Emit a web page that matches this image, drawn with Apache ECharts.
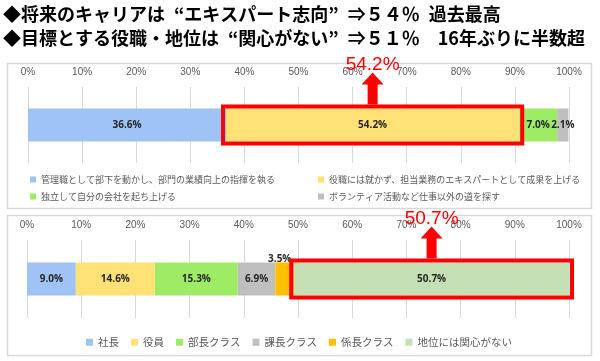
<!DOCTYPE html>
<html><head><meta charset="utf-8">
<script src="https://cdn.jsdelivr.net/npm/echarts@6/dist/echarts.min.js"></script>
<style>html,body{margin:0;padding:0;background:#fff}#c{width:600px;height:361px}</style>
</head><body><div id="c"></div>
<script>
const titleLine1 = '◆将来のキャリアは\u2002“エキスパート志向”\u2002⇒５４％\u2002過去最高';
const titleLine2 = '◆目標とする役職・地位は\u2002“関心がない”\u2002⇒５１％　16年ぶりに半数超';
const tickLabels = ['0%','10%','20%','30%','40%','50%','60%','70%','80%','90%','100%'];

const topNames = ['管理職として部下を動かし、部門の業績向上の指揮を執る','役職には就かず、担当業務のエキスパートとして成果を上げる','独立して自分の会社を起ち上げる','ボランティア活動など仕事以外の道を探す'];
const topValues = [36.6, 54.2, 7.0, 2.1];
const topColors = ['#9FC3F5','#FFE175','#9EEB66','#BFBFBF'];

const botNames = ['社長','役員','部長クラス','課長クラス','係長クラス','地位には関心がない'];
const botValues = [9.0, 14.6, 15.3, 6.9, 3.5, 50.7];
const botColors = ['#9FC3F5','#FFE175','#9EEB66','#BFBFBF','#FFC000','#C5E0B4'];

const highlightTop = 1;   // index in top series
const highlightBot = 5;   // index in bottom series

const chart = echarts.init(document.getElementById('c'), null, {renderer:'canvas'});
const FONT = '"Noto Sans CJK JP","Noto Sans",sans-serif';

function xAxisCfg(grid){
  return {type:'value', gridIndex:grid, min:0, max:100, interval:10, position:'top',
    axisLine:{show:false}, axisTick:{show:false},
    axisLabel:{color:'#595959', fontSize:10, margin:10, fontFamily:'"Liberation Sans",sans-serif',
      formatter:(v)=>tickLabels[Math.round(v/10)]},
    splitLine:{lineStyle:{color:'#D9D9D9', width:1}}};
}
function yAxisCfg(grid){
  return {type:'category', gridIndex:grid, data:[''], axisLine:{show:false}, axisTick:{show:false}, axisLabel:{show:false}};
}
const labelStyle = {show:true, position:'inside', color:'#262626', fontSize:10, fontWeight:'bold', fontFamily:'"Open Sans","Noto Sans",sans-serif', formatter:(p)=>p.value.toFixed(1)+'%'};

const series = [];
topNames.forEach((n,i)=>{
  series.push({type:'bar', name:n, stack:'t', xAxisIndex:0, yAxisIndex:0, barWidth:33,
    itemStyle:{color:topColors[i]}, data:[topValues[i]], label:Object.assign({}, labelStyle)});
});
botNames.forEach((n,i)=>{
  const lab = Object.assign({}, labelStyle);
  if (n==='係長クラス'){ lab.position='top'; lab.distance=0; lab.offset=[-5,2]; }
  series.push({type:'bar', name:n, stack:'b', xAxisIndex:1, yAxisIndex:1, barWidth:33,
    itemStyle:{color:botColors[i]}, data:[botValues[i]], label:lab});
});

const legendText = {color:'#595959', fontSize:9, fontFamily:FONT};
chart.setOption({
  animation:false,
  backgroundColor:'#fff',
  grid:[{left:28, right:31, top:87, height:76}, {left:27, right:31, top:240, height:78}],
  xAxis:[xAxisCfg(0), xAxisCfg(1)],
  yAxis:[yAxisCfg(0), yAxisCfg(1)],
  legend:[
    {data:[topNames[0], topNames[2]], orient:'vertical', left:25, top:170, itemWidth:6, itemHeight:6, itemGap:8, icon:'rect', textStyle:legendText, selectedMode:false},
    {data:[topNames[1], topNames[3]], orient:'vertical', left:313, top:170, itemWidth:6, itemHeight:6, itemGap:8, icon:'rect', textStyle:legendText, selectedMode:false},
    {data:botNames, orient:'horizontal', left:81, top:332, itemWidth:7, itemHeight:7, itemGap:12, icon:'rect', textStyle:{color:'#595959', fontSize:10.5, fontFamily:FONT}, selectedMode:false}
  ],
  series:series
});

function annot(seriesIndex, label){
  const lay = chart.getModel().getSeriesByIndex(seriesIndex).getData().getItemLayout(0);
  const x = lay.x, y = lay.y, w = lay.width, h = lay.height;
  const x0 = Math.min(x, x+w), y0 = Math.min(y, y+h), aw = Math.abs(w), ah = Math.abs(h);
  const pad = 2;
  const cx = x0 + aw/2;
  const base = y0 - pad - 2;
  const tip = base - 32;
  const headH = 12, shaftW = 10, headW = 22;
  return [
    {type:'rect', z:100, shape:{x:x0-pad-1, y:y0-pad, width:aw+2*pad+2, height:ah+2*pad}, style:{fill:null, stroke:'#FF0000', lineWidth:4}},
    {type:'polygon', z:100, shape:{points:[[cx-shaftW/2,base],[cx-shaftW/2,tip+headH],[cx-headW/2,tip+headH],[cx,tip],[cx+headW/2,tip+headH],[cx+shaftW/2,tip+headH],[cx+shaftW/2,base]]}, style:{fill:'#FF0000'}},
    {type:'text', z:101, x:cx, y:tip-8, style:{text:label, fill:'#FF0000', fontSize:19, fontFamily:'"Liberation Sans",Arial,sans-serif', align:'center', verticalAlign:'middle'}}
  ];
}
const titleStyle = {fill:'#000', fontSize:18, fontWeight:'bold', fontFamily:FONT, verticalAlign:'middle'};
const g = [
  {type:'rect', z:-10, shape:{x:7.5, y:63.5, width:584, height:145}, style:{fill:'#fff', stroke:'#D9D9D9', lineWidth:1.5}},
  {type:'rect', z:-10, shape:{x:7.5, y:215.5, width:584, height:140}, style:{fill:'#fff', stroke:'#D9D9D9', lineWidth:1.5}},
  {type:'text', z:50, x:3, y:14, style:Object.assign({text:titleLine1}, titleStyle)},
  {type:'text', z:50, x:3, y:38, style:Object.assign({text:titleLine2}, titleStyle)}
].concat(annot(highlightTop, topValues[highlightTop].toFixed(1)+'%'))
 .concat(annot(topNames.length + highlightBot, botValues[highlightBot].toFixed(1)+'%'));
chart.setOption({graphic:g});
</script></body></html>
